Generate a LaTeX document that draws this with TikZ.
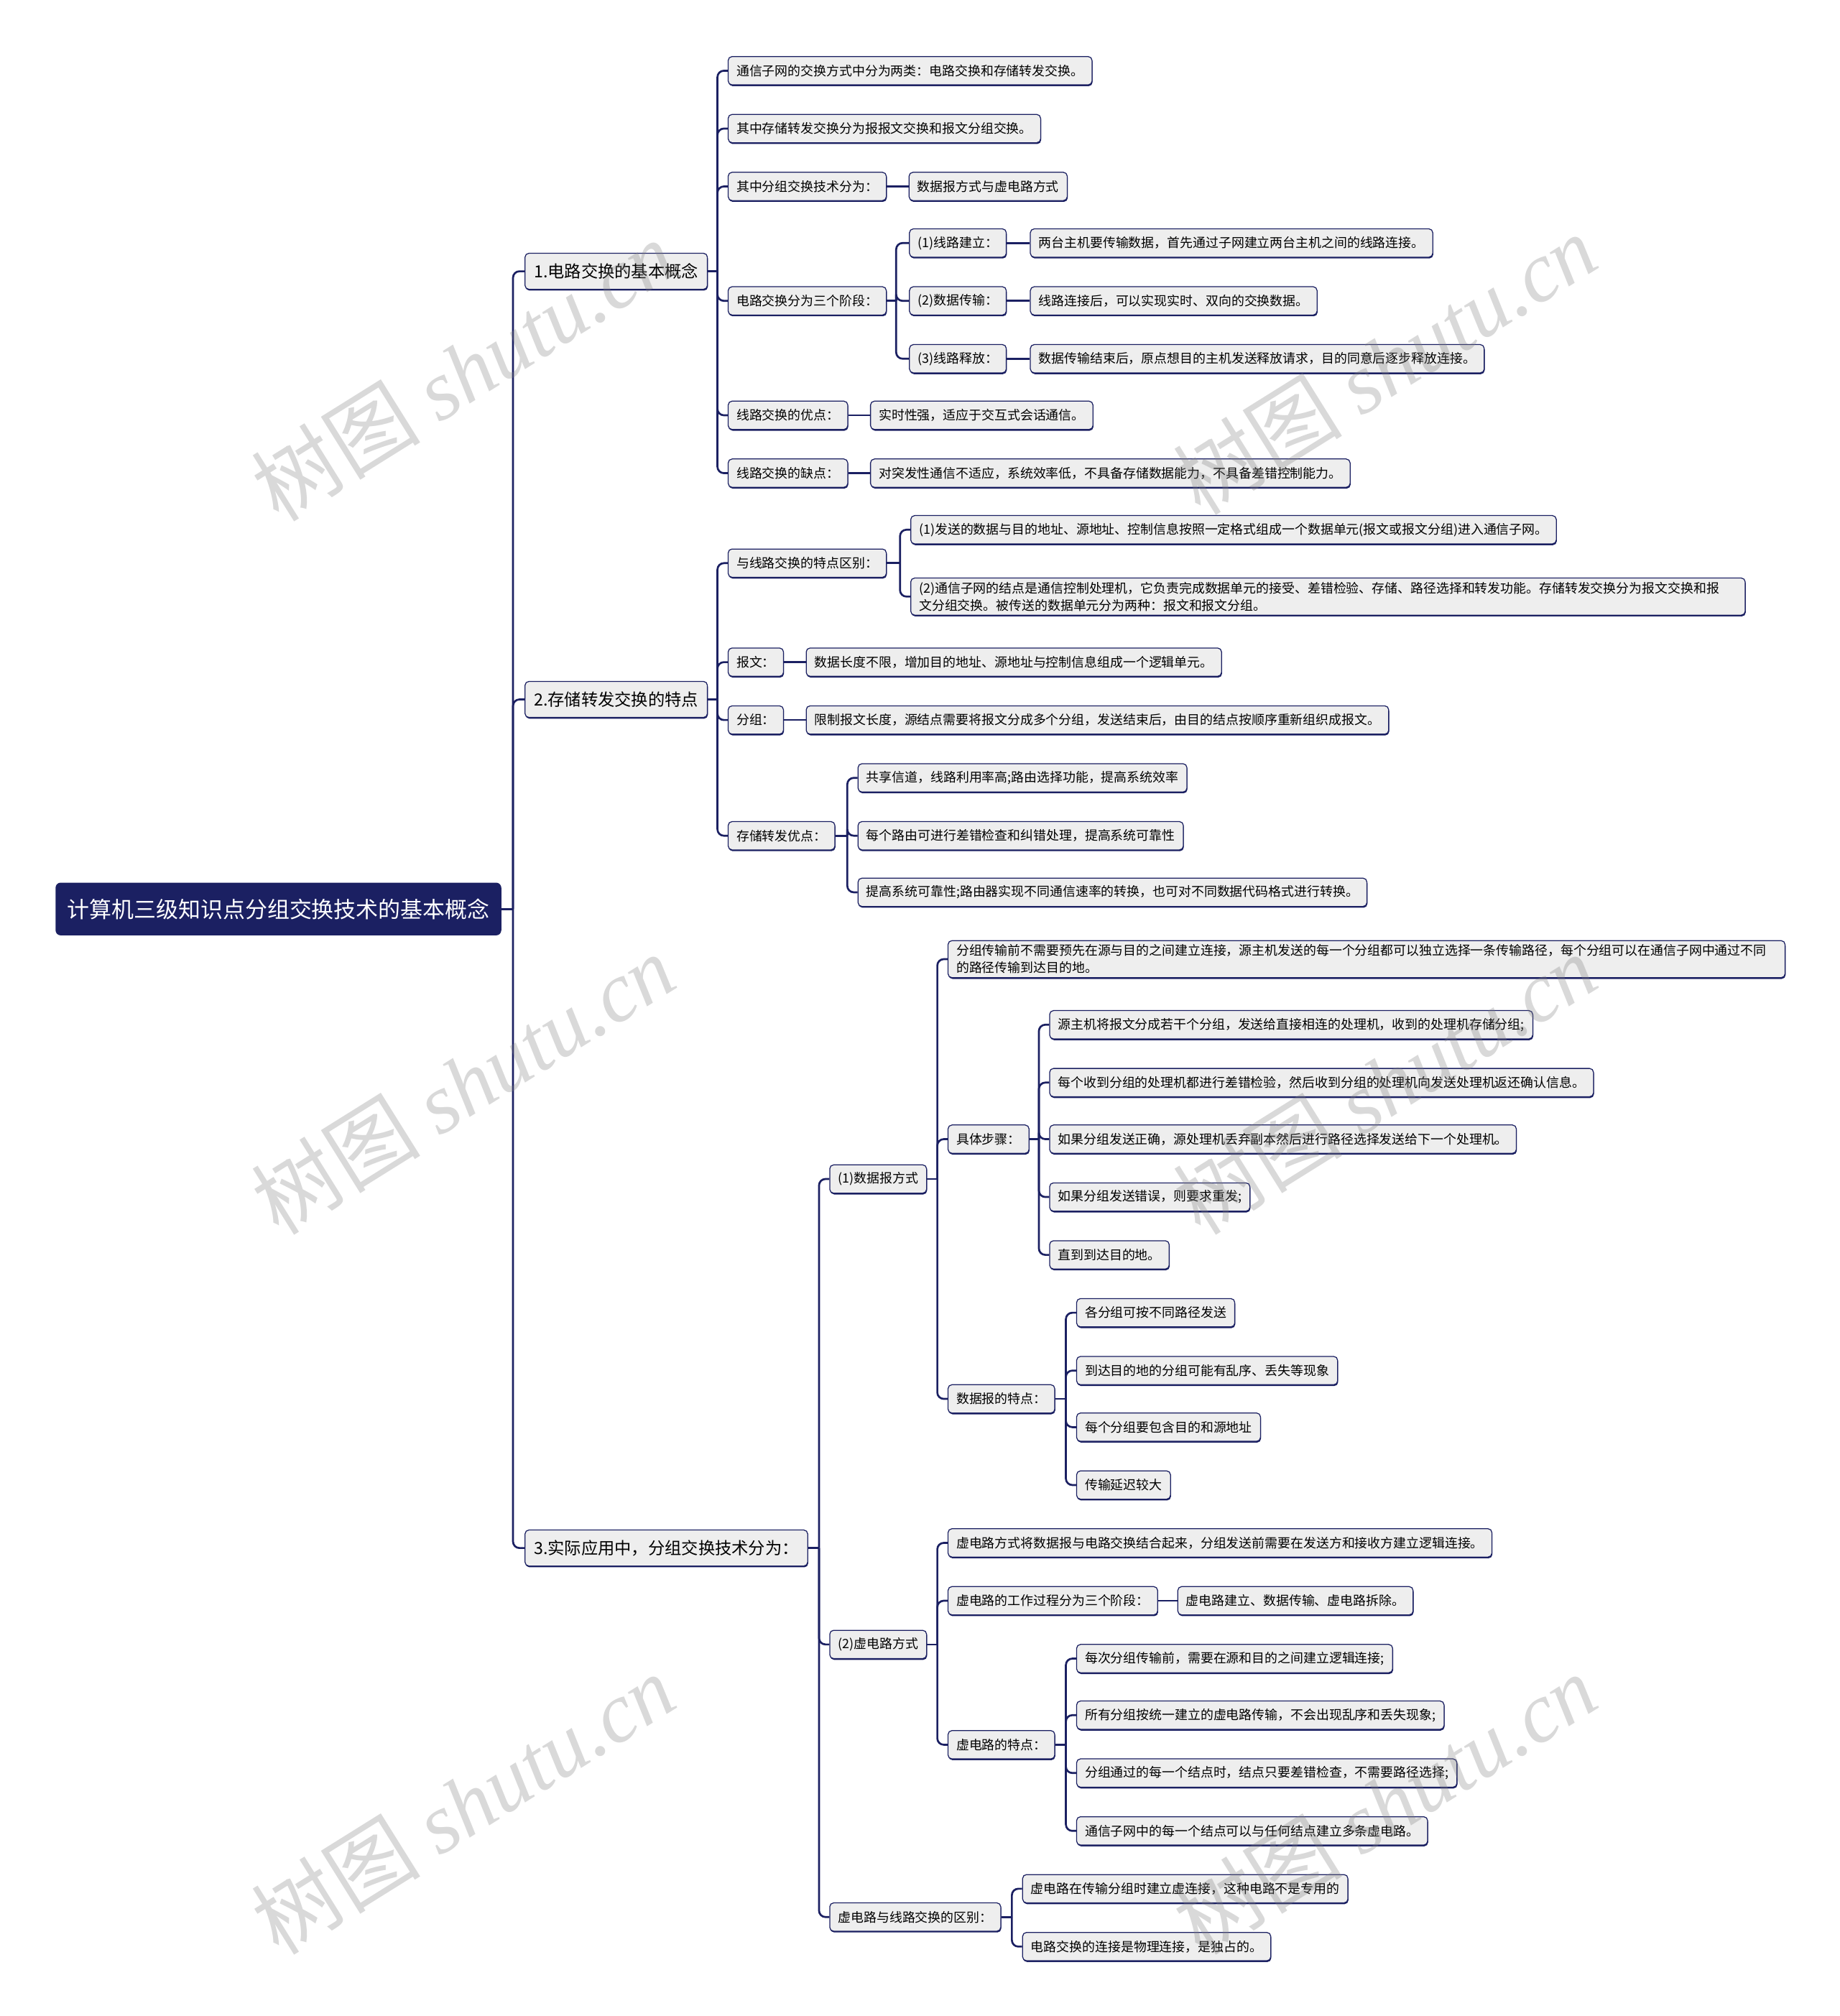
\documentclass[tikz,border=0pt]{standalone}
\usepackage{fontspec}
\setmainfont{Noto Sans CJK SC}
\newfontfamily\markfont{Liberation Serif}
\usepackage{tikz}
\usetikzlibrary{positioning, shadows}

\definecolor{navy}{HTML}{1B2062}
\definecolor{boxgray}{HTML}{EEEEEE}

\begin{document}
\begin{tikzpicture}[
    x=1pt, y=-1pt,
    node distance=18pt,
    rootbox/.style={
        fill=navy,
        text=white,
        rounded corners=4pt,
        anchor=west,
        inner xsep=9pt,
        minimum height=41pt,
        font=\fontsize{17.3}{20}\selectfont
    },
    leaf/.style={
        draw=navy,
        fill=boxgray,
        rounded corners=3pt,
        line width=0.7pt,
        anchor=west,
        align=left,
        inner xsep=6.5pt,
        inner ysep=3pt,
        minimum height=22pt,
        font=\fontsize{10}{13.5}\selectfont,
        general shadow={fill=navy, shadow yshift=-1pt, shadow xshift=0.4pt}
    },
    topic/.style={
        leaf,
        minimum height=28pt,
        inner xsep=7pt,
        font=\fontsize{13}{16}\selectfont
    },
    link/.style={
        navy,
        line width=1.5pt,
        rounded corners=5pt
    },
    wmark/.style={
        text=gray,
        opacity=0.3,
        rotate=32,
        font=\fontsize{66}{66}\selectfont
    }
]
\useasboundingbox (0,0) rectangle (1431,1568);

\node[rootbox] (root) at (43,707) {计算机三级知识点分组交换技术的基本概念};

\node[topic] (basic) at (408,211) {1.电路交换的基本概念};
\node[topic] (store) at (408,544) {2.存储转发交换的特点};
\node[topic] (apply) at (408,1204) {3.实际应用中，分组交换技术分为：};

% 1. circuit switching
\node[leaf] (twokinds) at (566,55) {通信子网的交换方式中分为两类：电路交换和存储转发交换。};
\node[leaf] (storekinds) at (566,100) {其中存储转发交换分为报报文交换和报文分组交换。};
\node[leaf] (pkttech) at (566,145) {其中分组交换技术分为：};
\node[leaf, right=17pt of pkttech] (pktways) {数据报方式与虚电路方式};
\node[leaf] (stages) at (566,234) {电路交换分为三个阶段：};
\node[leaf] (setup) at (707,189) {(1)线路建立：};
\node[leaf] (transfer) at (707,234) {(2)数据传输：};
\node[leaf] (release) at (707,279) {(3)线路释放：};
\node[leaf, right=of setup] (setupd)
{两台主机要传输数据，首先通过子网建立两台主机之间的线路连接。};
\node[leaf, right=of transfer] (transferd)
{线路连接后，可以实现实时、双向的交换数据。};
\node[leaf, right=of release] (released)
{数据传输结束后，原点想目的主机发送释放请求，目的同意后逐步释放连接。};
\node[leaf] (merit) at (566,323) {线路交换的优点：};
\node[leaf, right=17pt of merit] (meritd) {实时性强，适应于交互式会话通信。};
\node[leaf] (flaw) at (566,368) {线路交换的缺点：};
\node[leaf, right=17pt of flaw] (flawd)
{对突发性通信不适应，系统效率低，不具备存储数据能力，不具备差错控制能力。};

% 2. store and forward
\node[leaf] (diff) at (566,438) {与线路交换的特点区别：};
\node[leaf] (diff1) at (708,412)
{(1)发送的数据与目的地址、源地址、控制信息按照一定格式组成一个数据单元(报文或报文分组)进入通信子网。};
\node[leaf, text width=636pt] (diff2) at (708,464)
{(2)通信子网的结点是通信控制处理机，它负责完成数据单元的接受、差错检验、存储、路径选择和转发功能。存储转发交换分为报文交换和报\\文分组交换。被传送的数据单元分为两种：报文和报文分组。};
\node[leaf] (msg) at (566,515) {报文：};
\node[leaf, right=17pt of msg] (msgd)
{数据长度不限，增加目的地址、源地址与控制信息组成一个逻辑单元。};
\node[leaf] (pkt) at (566,560) {分组：};
\node[leaf, right=17pt of pkt] (pktd)
{限制报文长度，源结点需要将报文分成多个分组，发送结束后，由目的结点按顺序重新组织成报文。};
\node[leaf] (gain) at (566,650) {存储转发优点：};
\node[leaf] (gain1) at (667,605) {共享信道，线路利用率高;路由选择功能，提高系统效率};
\node[leaf] (gain2) at (667,650) {每个路由可进行差错检查和纠错处理，提高系统可靠性};
\node[leaf] (gain3) at (667,694)
{提高系统可靠性;路由器实现不同通信速率的转换，也可对不同数据代码格式进行转换。};

% 3. datagram
\node[leaf] (dgram) at (645,917) {(1)数据报方式};
\node[leaf, text width=638pt] (dgram0) at (737,746)
{分组传输前不需要预先在源与目的之间建立连接，源主机发送的每一个分组都可以独立选择一条传输路径，每个分组可以在通信子网中通过不同\\的路径传输到达目的地。};
\node[leaf] (steps) at (737,886) {具体步骤：};
\node[leaf] (step1) at (816,797)
{源主机将报文分成若干个分组，发送给直接相连的处理机，收到的处理机存储分组;};
\node[leaf] (step2) at (816,842)
{每个收到分组的处理机都进行差错检验，然后收到分组的处理机向发送处理机返还确认信息。};
\node[leaf] (step3) at (816,886)
{如果分组发送正确，源处理机丢弃副本然后进行路径选择发送给下一个处理机。};
\node[leaf] (step4) at (816,931) {如果分组发送错误，则要求重发;};
\node[leaf] (step5) at (816,976) {直到到达目的地。};
\node[leaf] (dtrait) at (737,1088) {数据报的特点：};
\node[leaf] (dtrait1) at (837,1021) {各分组可按不同路径发送};
\node[leaf] (dtrait2) at (837,1066) {到达目的地的分组可能有乱序、丢失等现象};
\node[leaf] (dtrait3) at (837,1110) {每个分组要包含目的和源地址};
\node[leaf] (dtrait4) at (837,1155) {传输延迟较大};

% 3. virtual circuit
\node[leaf] (vcirc) at (645,1279) {(2)虚电路方式};
\node[leaf] (vcirc0) at (737,1200)
{虚电路方式将数据报与电路交换结合起来，分组发送前需要在发送方和接收方建立逻辑连接。};
\node[leaf] (vphase) at (737,1245) {虚电路的工作过程分为三个阶段：};
\node[leaf, right=15pt of vphase] (vphased) {虚电路建立、数据传输、虚电路拆除。};
\node[leaf] (vtrait) at (737,1357) {虚电路的特点：};
\node[leaf] (vtrait1) at (837,1290) {每次分组传输前，需要在源和目的之间建立逻辑连接;};
\node[leaf] (vtrait2) at (837,1334) {所有分组按统一建立的虚电路传输，不会出现乱序和丢失现象;};
\node[leaf] (vtrait3) at (837,1379) {分组通过的每一个结点时，结点只要差错检查，不需要路径选择;};
\node[leaf] (vtrait4) at (837,1424) {通信子网中的每一个结点可以与任何结点建立多条虚电路。};
\node[leaf] (vdiff) at (645,1491) {虚电路与线路交换的区别：};
\node[leaf] (vdiff1) at (795,1469) {虚电路在传输分组时建立虚连接，这种电路不是专用的};
\node[leaf] (vdiff2) at (795,1514) {电路交换的连接是物理连接，是独占的。};

% trunks
\coordinate (t0) at (399,707);
\coordinate (t1) at (558,211);
\coordinate (t2) at (558,544);
\coordinate (t3) at (637,1204);
\coordinate (t4) at (697,234);
\coordinate (t5) at (700,438);
\coordinate (t6) at (659,650);
\coordinate (t7) at (729,917);
\coordinate (t8) at (808,886);
\coordinate (t9) at (829,1088);
\coordinate (t10) at (729,1279);
\coordinate (t11) at (829,1357);
\coordinate (t12) at (787,1491);

\draw[link] (root.east) -- (t0);
\draw[link] (t0) |- (basic.west);
\draw[link] (t0) |- (store.west);
\draw[link] (t0) |- (apply.west);

\draw[link] (basic.east) -- (t1);
\draw[link] (t1) |- (twokinds.west);
\draw[link] (t1) |- (storekinds.west);
\draw[link] (t1) |- (pkttech.west);
\draw[link] (t1) |- (stages.west);
\draw[link] (t1) |- (merit.west);
\draw[link] (t1) |- (flaw.west);
\draw[link] (pkttech) -- (pktways);
\draw[link] (stages.east) -- (t4);
\draw[link] (t4) |- (setup.west);
\draw[link] (t4) |- (transfer.west);
\draw[link] (t4) |- (release.west);
\draw[link] (setup) -- (setupd);
\draw[link] (transfer) -- (transferd);
\draw[link] (release) -- (released);
\draw[link] (merit) -- (meritd);
\draw[link] (flaw) -- (flawd);

\draw[link] (store.east) -- (t2);
\draw[link] (t2) |- (diff.west);
\draw[link] (t2) |- (msg.west);
\draw[link] (t2) |- (pkt.west);
\draw[link] (t2) |- (gain.west);
\draw[link] (diff.east) -- (t5);
\draw[link] (t5) |- (diff1.west);
\draw[link] (t5) |- (diff2.west);
\draw[link] (msg) -- (msgd);
\draw[link] (pkt) -- (pktd);
\draw[link] (gain.east) -- (t6);
\draw[link] (t6) |- (gain1.west);
\draw[link] (t6) |- (gain2.west);
\draw[link] (t6) |- (gain3.west);

\draw[link] (apply.east) -- (t3);
\draw[link] (t3) |- (dgram.west);
\draw[link] (t3) |- (vcirc.west);
\draw[link] (t3) |- (vdiff.west);
\draw[link] (dgram.east) -- (t7);
\draw[link] (t7) |- (dgram0.west);
\draw[link] (t7) |- (steps.west);
\draw[link] (t7) |- (dtrait.west);
\draw[link] (steps.east) -- (t8);
\draw[link] (t8) |- (step1.west);
\draw[link] (t8) |- (step2.west);
\draw[link] (t8) |- (step3.west);
\draw[link] (t8) |- (step4.west);
\draw[link] (t8) |- (step5.west);
\draw[link] (dtrait.east) -- (t9);
\draw[link] (t9) |- (dtrait1.west);
\draw[link] (t9) |- (dtrait2.west);
\draw[link] (t9) |- (dtrait3.west);
\draw[link] (t9) |- (dtrait4.west);
\draw[link] (vcirc.east) -- (t10);
\draw[link] (t10) |- (vcirc0.west);
\draw[link] (t10) |- (vphase.west);
\draw[link] (t10) |- (vtrait.west);
\draw[link] (vphase) -- (vphased);
\draw[link] (vtrait.east) -- (t11);
\draw[link] (t11) |- (vtrait1.west);
\draw[link] (t11) |- (vtrait2.west);
\draw[link] (t11) |- (vtrait3.west);
\draw[link] (t11) |- (vtrait4.west);
\draw[link] (vdiff.east) -- (t12);
\draw[link] (t12) |- (vdiff1.west);
\draw[link] (t12) |- (vdiff2.west);

% watermarks
\node[wmark] (wm1) at (360,288) {树图 {\markfont\itshape shutu.cn}};
\node[wmark] (wm2) at (1077,283) {树图 {\markfont\itshape shutu.cn}};
\node[wmark] (wm3) at (360,843) {树图 {\markfont\itshape shutu.cn}};
\node[wmark] (wm4) at (1077,843) {树图 {\markfont\itshape shutu.cn}};
\node[wmark] (wm5) at (360,1403) {树图 {\markfont\itshape shutu.cn}};
\node[wmark] (wm6) at (1077,1403) {树图 {\markfont\itshape shutu.cn}};

\end{tikzpicture}
\end{document}
